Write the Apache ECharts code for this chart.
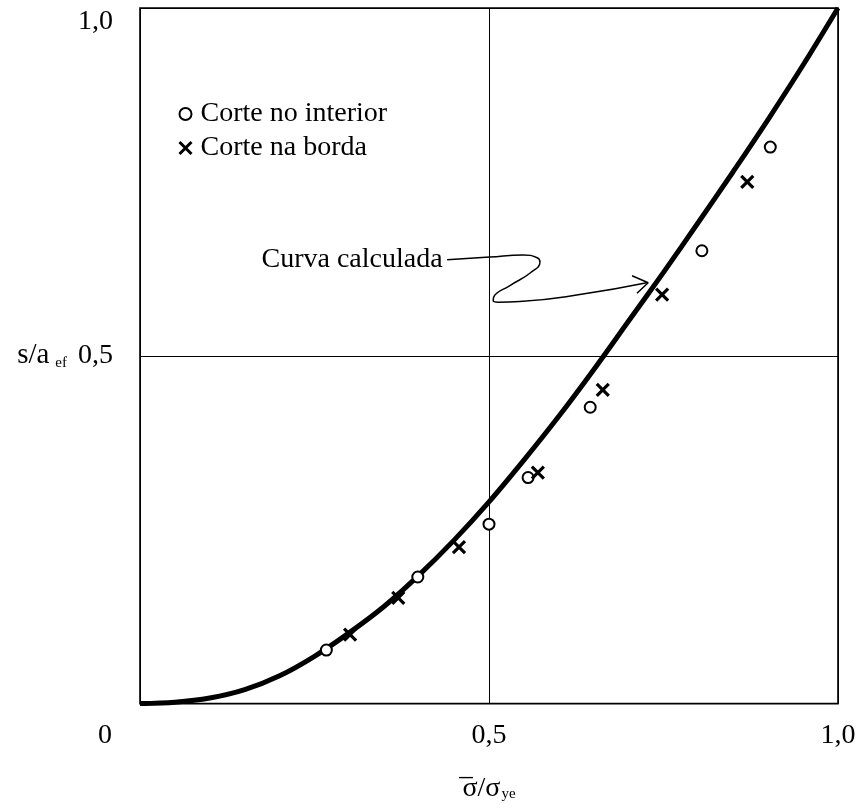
<!DOCTYPE html>
<html>
<head>
<meta charset="utf-8">
<script src="https://cdn.jsdelivr.net/npm/echarts@6/dist/echarts.min.js"></script>
<style>
  html, body { margin: 0; padding: 0; background: #fff; }
  #chart { width: 861px; height: 808px; }
</style>
</head>
<body>
<div id="chart"></div>
<script>
// Calculated curve s/a_ef versus normalised stress
const curveX = [0, 0.05, 0.1, 0.15, 0.2, 0.25, 0.3, 0.35, 0.4, 0.45, 0.5, 0.55, 0.6, 0.65, 0.7, 0.75, 0.8, 0.85, 0.9, 0.95, 1.0];
const curveY = [0, 0.002, 0.008, 0.02, 0.04, 0.068, 0.102, 0.14, 0.185, 0.235, 0.29, 0.35, 0.413, 0.48, 0.55, 0.62, 0.692, 0.765, 0.84, 0.918, 1.0];

// Measurements: cut in the interior
const interiorX = [0.267, 0.398, 0.500, 0.556, 0.645, 0.805, 0.903];
const interiorY = [0.077, 0.182, 0.258, 0.325, 0.426, 0.651, 0.800];

// Measurements: cut at the edge
const edgeX = [0.301, 0.370, 0.457, 0.570, 0.663, 0.748, 0.870];
const edgeY = [0.099, 0.152, 0.225, 0.332, 0.451, 0.588, 0.750];

// Leader from the "Curva calculada" note to the curve, and its arrow head
const leaderX = [0.440, 0.501, 0.549, 0.569, 0.573, 0.559, 0.530, 0.507, 0.506, 0.513, 0.544, 0.630, 0.726];
const leaderY = [0.638, 0.642, 0.645, 0.641, 0.635, 0.619, 0.601, 0.585, 0.579, 0.577, 0.578, 0.588, 0.605];
const arrowX = [0.705, 0.728, 0.712];
const arrowY = [0.615, 0.605, 0.590];

const xTicks = { 0: '0', 0.5: '0,5', 1: '1,0' };
const yTicks = { 0.5: '0,5', 1: '1,0' };

const FONT = 'Liberation Serif';
const zip = (a, b) => a.map((v, i) => [v, b[i]]);

const chart = echarts.init(document.getElementById('chart'), null, { renderer: 'canvas' });

const crossPath = 'path://M0,0L10,10M10,0L0,10';

chart.setOption({
  backgroundColor: '#fff',
  animation: false,
  textStyle: { fontFamily: FONT, color: '#000' },
  grid: {
    left: 140, top: 8, width: 698, height: 699,
    show: true, borderColor: '#000', borderWidth: 1.6, backgroundColor: 'transparent'
  },
  legend: {
    orient: 'vertical',
    left: 172, top: 95,
    itemGap: 6,
    itemWidth: 12, itemHeight: 12,
    textStyle: { fontFamily: FONT, fontSize: 28, color: '#000', padding: [0, 0, 0, 4] },
    data: [
      { name: 'Corte no interior', icon: 'circle',
        itemStyle: { color: '#fff', borderColor: '#000', borderWidth: 2 } },
      { name: 'Corte na borda', icon: crossPath,
        itemStyle: { color: 'none', borderColor: '#000', borderWidth: 3 } }
    ]
  },
  xAxis: {
    type: 'value', min: 0, max: 1, interval: 0.5,
    axisLine: { show: false }, axisTick: { show: false },
    splitLine: { show: true, lineStyle: { color: '#000', width: 1 } },
    axisLabel: {
      margin: 18, fontFamily: FONT, fontSize: 28, color: '#000',
      formatter: v => v === 0 ? '{z|0}' : (xTicks[v] || ''),
      rich: { z: { fontFamily: FONT, fontSize: 28, color: '#000', padding: [0, 70, 0, 0] } }
    },
    name: '{ov|_}{gap|}\n{s|σ}{s|/σ}{sub|ye}',
    nameLocation: 'middle', nameGap: 44,
    nameTextStyle: {
      align: 'center',
      rich: {
        ov: { fontFamily: FONT, fontSize: 27, color: '#000', lineHeight: 12 },
        gap: { width: 46, lineHeight: 12 },
        s: { fontFamily: FONT, fontSize: 28, color: '#000', lineHeight: 30 },
        sub: { fontFamily: FONT, fontSize: 15, color: '#000', lineHeight: 30, padding: [10, 0, 0, 1] }
      }
    }
  },
  yAxis: {
    type: 'value', min: 0, max: 1, interval: 0.5,
    axisLine: { show: false }, axisTick: { show: false },
    splitLine: { show: true, lineStyle: { color: '#000', width: 1 } },
    axisLabel: {
      margin: 27, fontFamily: FONT, fontSize: 28, color: '#000',
      formatter: v => v === 1 ? '{t|1,0}' : (yTicks[v] || ''),
      rich: { t: { fontFamily: FONT, fontSize: 28, color: '#000', padding: [28, 0, 0, 0] } }
    },
    name: '{s|s/a}{sub|ef}',
    nameLocation: 'middle', nameRotate: 0, nameGap: 73,
    nameTextStyle: {
      align: 'right', verticalAlign: 'middle',
      rich: {
        s: { fontFamily: FONT, fontSize: 29, color: '#000', lineHeight: 30 },
        sub: { fontFamily: FONT, fontSize: 15, color: '#000', lineHeight: 30, padding: [14, 0, 0, 6] }
      }
    }
  },
  series: [
    {
      name: 'Curva calculada', type: 'line', data: zip(curveX, curveY),
      smooth: 0.35, showSymbol: false, symbol: 'none',
      lineStyle: { color: '#000', width: 5 }, z: 3, silent: true
    },
    {
      name: 'Corte no interior', type: 'scatter', data: zip(interiorX, interiorY),
      symbol: 'circle', symbolSize: 11,
      itemStyle: { color: '#fff', borderColor: '#000', borderWidth: 2, opacity: 1 }, z: 4
    },
    {
      name: 'Corte na borda', type: 'scatter', data: zip(edgeX, edgeY),
      symbol: crossPath, symbolSize: 12,
      itemStyle: { color: 'none', borderColor: '#000', borderWidth: 3.2, opacity: 1 }, z: 4
    },
    {
      name: 'leader', type: 'line', smooth: 0.5, showSymbol: false, symbol: 'none',
      lineStyle: { color: '#000', width: 1.5 }, z: 2, silent: true,
      data: zip(leaderX, leaderY),
      markPoint: {
        silent: true,
        symbol: 'circle', symbolSize: 1,
        itemStyle: { color: 'transparent' },
        label: {
          show: true, position: 'left', distance: 4,
          fontFamily: FONT, fontSize: 28, color: '#000',
          formatter: 'Curva calculada'
        },
        data: [{ coord: [leaderX[0], leaderY[0]] }]
      }
    },
    {
      name: 'arrow', type: 'line', showSymbol: false, symbol: 'none',
      lineStyle: { color: '#000', width: 1.5 }, z: 2, silent: true,
      data: zip(arrowX, arrowY)
    }
  ]
});
</script>
</body>
</html>
